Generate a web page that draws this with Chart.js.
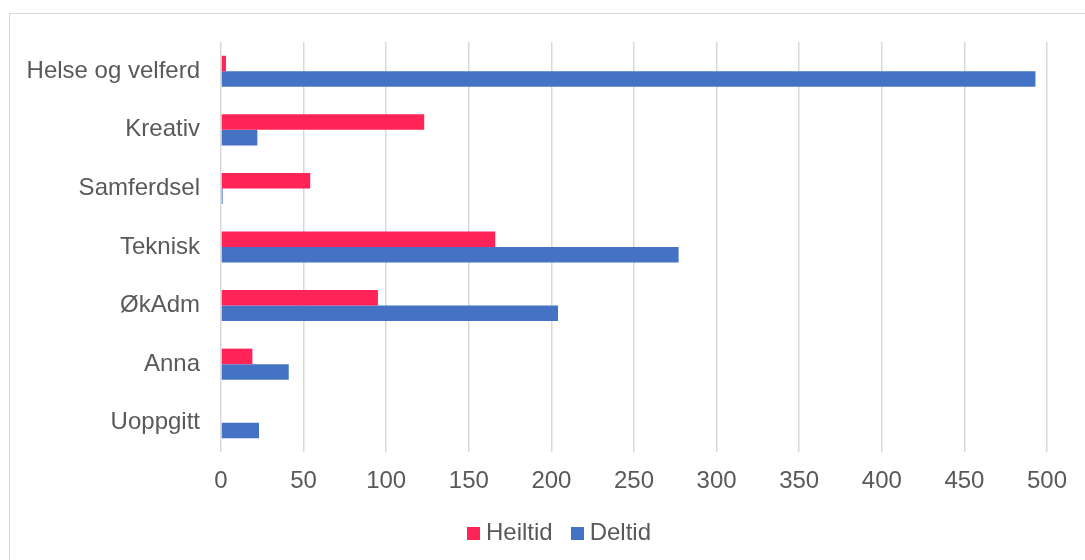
<!DOCTYPE html>
<html>
<head>
<meta charset="utf-8">
<script src="https://cdn.jsdelivr.net/npm/chart.js@4.4.1/dist/chart.umd.min.js"></script>
<style>
  html, body { margin: 0; padding: 0; background: #fff; overflow: hidden; width: 1085px; height: 560px; }
  #frame { position: absolute; left: 9px; top: 13px; width: 1098px; height: 640px; border: 1px solid #d9d9d9; box-sizing: border-box; }
  #c { position: absolute; left: 0; top: 0; }
</style>
</head>
<body>
<div id="frame"><canvas id="c" width="1096" height="620"></canvas></div>
<script>
const categories = ["Helse og velferd", "Kreativ", "Samferdsel", "Teknisk", "ØkAdm", "Anna", "Uoppgitt"];
const heiltid = [3, 123, 54, 166, 95, 19, 0];
const deltid = [493, 22, 1, 277, 204, 41, 23];
const seriesNames = ["Heiltid", "Deltid"];
const seriesColors = ["#FF2358", "#4472C4"];
const xTicks = [0, 50, 100, 150, 200, 250, 300, 350, 400, 450, 500];

const FONT = "'Liberation Sans', Arial, sans-serif";
const TEXT = '#595959';

function swatch(color) {
  const c = document.createElement('canvas');
  c.width = 13; c.height = 13;
  const g = c.getContext('2d');
  g.fillStyle = color; g.fillRect(0, 0, 13, 13);
  return c;
}
const swatches = seriesColors.map(swatch);
const noPad = (s) => { s.paddingTop = 0; s.paddingBottom = 0; };

new Chart(document.getElementById('c'), {
  type: 'bar',
  data: {
    labels: categories,
    datasets: [
      { label: seriesNames[0], data: heiltid, backgroundColor: seriesColors[0], borderWidth: 0,
        categoryPercentage: 0.53, barPercentage: 1.0 },
      { label: seriesNames[1], data: deltid, backgroundColor: seriesColors[1], borderWidth: 0,
        categoryPercentage: 0.53, barPercentage: 1.0 }
    ]
  },
  options: {
    indexAxis: 'y',
    responsive: false,
    animation: false,
    layout: { padding: { top: 28, right: 0, bottom: 79, left: 8 } },
    scales: {
      x: {
        min: 0, max: 500,
        afterBuildTicks: (s) => { s.ticks = xTicks.map(v => ({ value: v })); },
        grid: { color: '#d9d9d9', lineWidth: 1.5, drawTicks: false },
        border: { display: false },
        ticks: { color: TEXT, font: { family: FONT, size: 24 }, padding: 15 },
        afterFit: (s) => { s.height = 45; }
      },
      y: {
        grid: { display: false, drawTicks: false },
        border: { display: false },
        ticks: { color: TEXT, font: { family: FONT, size: 24 }, padding: 21 },
        afterFit: (s) => { s.width = 203; noPad(s); }
      },
      spacer: {
        type: 'linear', axis: 'y', position: 'right',
        grid: { display: false, drawTicks: false },
        border: { display: false },
        ticks: { display: false },
        afterFit: (s) => { s.width = 59; noPad(s); }
      }
    },
    plugins: {
      legend: {
        position: 'bottom',
        labels: {
          color: TEXT, font: { family: FONT, size: 24 }, padding: 24,
          usePointStyle: true, boxWidth: 1, boxHeight: 13,
          generateLabels: (ch) => {
            const items = Chart.defaults.plugins.legend.labels.generateLabels(ch);
            items.forEach((it, i) => { it.pointStyle = swatches[i]; });
            return items;
          }
        }
      },
      tooltip: { enabled: false }
    }
  }
});
</script>
</body>
</html>
